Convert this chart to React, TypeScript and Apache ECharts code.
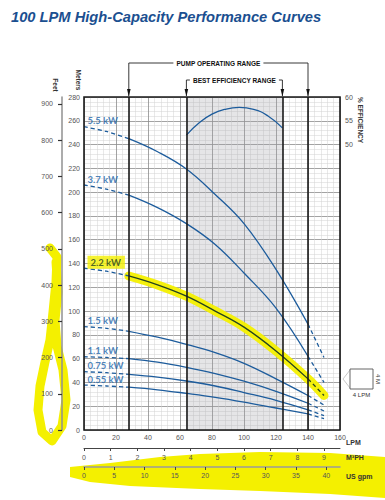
import React, { useEffect, useRef } from 'react';
import * as echarts from 'echarts';

// ---------- data ----------
const flowLpm = [0, 14, 28, 46, 64, 82, 100, 120, 140, 150];
const head5_5 = [255, 251, 245, 234, 219.5, 198, 173.5, 135, 89, 61];
const head3_7 = [206, 202.5, 197.5, 187, 173.5, 156, 132, 102.5, 62, 40];
const head2_2 = [136, 133.5, 129.5, 122, 112.5, 100, 86.5, 66.5, 43, 29];
const head1_5 = [87, 85.5, 83, 78, 72, 65, 56, 43, 29, 21];
const head1_1 = [61.6, 61, 60, 57, 52.7, 47.5, 41, 32.5, 22.5, 16];
const head0_75 = [49, 48.2, 46.8, 44.5, 41.2, 37, 31.5, 25, 17, 12];
const head0_55 = [37.8, 37, 36, 33.8, 30.8, 27.5, 23.5, 18.5, 13.5, 9.5];
const motorLabels = ['5.5 kW', '3.7 kW', '2.2 kW', '1.5 kW', '1.1 kW', '0.75 kW', '0.55 kW'];
const effFlow = [64, 72, 80, 88, 97, 106, 115, 124];
const effPct = [52, 54.6, 56.4, 57.4, 57.8, 57.4, 56, 53.5];
const operatingRange = [28, 140];
const bestEfficiencyRange = [64, 124];
const feetTicks = [0, 100, 200, 300, 400, 500, 600, 700, 800, 900];
const m3phTicks = [0, 1, 2, 3, 4, 5, 6, 7, 8, 9];
const gpmTicks = [0, 5, 10, 15, 20, 25, 30, 35, 40];
const effTicks = [50, 55, 60];

const BLUE = '#1d5c9c';
const LABEL_BLUE = '#2266aa';
const DARK = '#24421f';
const YELLOW = '#f4f000';
const FONT = 'Liberation Sans';

const curves = [head5_5, head3_7, head2_2, head1_5, head1_1, head0_75, head0_55];

function buildOption(): any {
  const series: any[] = [];
  series.push({
    type: 'line', data: [], z: 1, silent: true,
    markArea: {
      silent: true,
      itemStyle: { color: 'rgba(160,160,170,0.28)' },
      data: [[{ xAxis: bestEfficiencyRange[0] }, { xAxis: bestEfficiencyRange[1] }]],
    },
  });
  series.push({
    type: 'line', z: 2, silent: true, symbol: 'none', smooth: 0.4,
    data: flowLpm.slice(2).map((x, j) => [x, head2_2[j + 2]]),
    lineStyle: { color: YELLOW, width: 9, cap: 'round', opacity: 0.95 },
  });
  series.push({
    type: 'line', data: [], z: 2.5, silent: true,
    markLine: {
      silent: true, symbol: ['none', 'none'], label: { show: false },
      lineStyle: { color: '#1a1a1a', width: 1.6, type: 'solid' },
      data: [...operatingRange, ...bestEfficiencyRange].map((v) => ({ xAxis: v })),
    },
  });
  curves.forEach((h, i) => {
    const pts = flowLpm.map((x, j) => [x, h[j]]);
    const c = i === 2 ? DARK : BLUE;
    series.push({
      type: 'line', z: 3, symbol: 'none', smooth: 0.3, data: pts.slice(0, 3),
      lineStyle: { color: BLUE, width: 1.3, type: [4, 3] },
    });
    series.push({
      type: 'line', z: 3, symbol: 'none', smooth: 0.4, data: pts.slice(2, 9),
      lineStyle: { color: c, width: 1.3 },
    });
    series.push({
      type: 'line', z: 3, symbol: 'none', data: pts.slice(8),
      lineStyle: { color: c, width: 1.3, type: [4, 3] },
    });
  });
  series.push({
    type: 'scatter', z: 4, symbol: 'circle', symbolSize: 1,
    itemStyle: { color: 'rgba(0,0,0,0)' },
    data: motorLabels.map((n, i) => ({
      name: n,
      value: [0, curves[i][0]],
      label: i === 2
        ? { backgroundColor: YELLOW, color: DARK, padding: [2, 4, 1, 3] }
        : {},
    })),
    label: {
      show: true, formatter: '{b}', position: 'right', distance: 3, offset: [0, -6],
      color: LABEL_BLUE, fontSize: 9.5, fontWeight: 'bold', fontFamily: 'Lato',
    },
  });
  series.push({
    type: 'line', z: 3, symbol: 'none', smooth: 0.5, yAxisIndex: 2,
    data: effFlow.map((x, i) => [x, effPct[i]]),
    lineStyle: { color: BLUE, width: 1.3 },
  });

  const tickLabel = { fontSize: 7, color: '#555', fontFamily: FONT, hideOverlap: false };
  const axisName = { fontSize: 7, fontWeight: 'bold', color: '#333', fontFamily: FONT, verticalAlign: 'top' };

  return {
    animation: false,
    title: {
      text: '100 LPM High-Capacity Performance Curves',
      left: 6, top: 4,
      textStyle: { fontSize: 14.7, fontWeight: 'bold', fontStyle: 'italic', color: '#1b4f90', fontFamily: FONT },
    },
    grid: { left: 84, right: 45, top: 97, bottom: 70, show: false },
    xAxis: [
      {
        type: 'value', min: 0, max: 160, interval: 20,
        axisLine: { show: false, onZero: false }, axisTick: { show: false },
        axisLabel: { ...tickLabel, margin: 4 },
        splitLine: { show: true, lineStyle: { color: '#8c8c8c', width: 0.8 } },
        minorTick: { show: false, splitNumber: 5 },
        minorSplitLine: { show: true, lineStyle: { color: '#d2d2d2', width: 0.5 } },
      },
      {
        type: 'value', position: 'bottom', offset: 18, min: 0, max: 9.6, interval: 1,
        axisLine: { show: true, onZero: false, lineStyle: { color: '#444', width: 1 } },
        axisTick: { show: true, length: 3, customValues: m3phTicks, lineStyle: { color: '#444' } },
        axisLabel: { ...tickLabel, margin: 6, interval: 0, customValues: m3phTicks },
        splitLine: { show: false },
        name: 'M³PH', nameLocation: 'end', nameGap: 6, nameMoveOverlap: false,
        nameTextStyle: { ...axisName, padding: [6, 0, 0, 0] },
      },
      {
        type: 'value', position: 'bottom', offset: 37, min: 0, max: 160 / 3.78541, interval: 5,
        axisLine: { show: true, onZero: false, lineStyle: { color: '#9a9a9a', width: 1.5 } },
        axisTick: { show: true, length: 3, customValues: gpmTicks, lineStyle: { color: '#444' } },
        axisLabel: { ...tickLabel, margin: 5, interval: 0, customValues: gpmTicks },
        splitLine: { show: false },
        name: 'US gpm', nameLocation: 'end', nameGap: 6, nameMoveOverlap: false,
        nameTextStyle: { ...axisName, padding: [6, 0, 0, 0] },
      },
    ],
    yAxis: [
      {
        type: 'value', min: 0, max: 280, interval: 20, position: 'left',
        axisLine: { show: false, onZero: false }, axisTick: { show: false },
        axisLabel: { ...tickLabel, margin: 4 },
        splitLine: { show: true, lineStyle: { color: '#8c8c8c', width: 0.8 } },
        minorTick: { show: false, splitNumber: 5 },
        minorSplitLine: { show: true, lineStyle: { color: '#d2d2d2', width: 0.5 } },
      },
      {
        type: 'value', min: 0, max: 280 / 0.3048, interval: 100, position: 'left', offset: 22,
        axisLine: { show: true, onZero: false, lineStyle: { color: '#909090', width: 1.5 } },
        axisTick: { show: true, length: 4, customValues: feetTicks, lineStyle: { color: '#333', width: 1.2 } },
        axisLabel: { ...tickLabel, margin: 9, interval: 0, customValues: feetTicks },
        splitLine: { show: false },
      },
      {
        type: 'value', min: -10, max: 60, interval: 5, position: 'right',
        axisLine: { show: false, onZero: false }, axisTick: { show: false },
        axisLabel: { ...tickLabel, margin: 5, customValues: effTicks },
        splitLine: { show: false },
      },
    ],
    series,
  };
}

export default function App() {
  const ref = useRef<HTMLDivElement>(null);
  useEffect(() => {
    const chart = echarts.init(ref.current!, null, { renderer: 'svg' });
    chart.setOption(buildOption());

    const xp = (v: number) => chart.convertToPixel({ xAxisIndex: 0 }, v) as number;
    const yp = (v: number) => chart.convertToPixel({ yAxisIndex: 0 }, v) as number;
    const left = xp(0), right = xp(160), top = yp(280), bottom = yp(0);

    const bracket = (a: number, b: number, yLine: number, text: string) => {
      const xa = xp(a), xb = xp(b);
      const els: any[] = [
        {
          type: 'polyline', z: 20, silent: true,
          shape: { points: [[xa, top - 1], [xa, yLine], [xb, yLine], [xb, top - 1]] },
          style: { stroke: '#222', lineWidth: 0.9, fill: null },
        },
        ...[xa, xb].map((x) => ({
          type: 'polygon', z: 20, silent: true,
          shape: { points: [[x - 1.8, top - 8], [x + 1.8, top - 8], [x, top - 0.5]] },
          style: { fill: '#111' },
        })),
        {
          type: 'text', z: 21, silent: true, x: (xa + xb) / 2, y: yLine,
          style: {
            text, align: 'center', verticalAlign: 'middle', fontSize: 6.5, fontWeight: 'bold',
            fontFamily: FONT, fill: '#111', backgroundColor: '#fff', padding: [1, 3],
          },
        },
      ];
      return els;
    };

    const vText = (text: string, x: number, y: number, size: number, bold: boolean) => ({
      type: 'text', z: 20, x, y, rotation: -Math.PI / 2, silent: true,
      style: {
        text, align: 'center', verticalAlign: 'middle', fontSize: size,
        fontWeight: bold ? 'bold' : 'normal', fontFamily: FONT, fill: '#333',
      },
    });

    const graphic: any[] = [
      {
        type: 'polyline', z: -5, silent: true,
        shape: { points: [[50, 248], [57, 257], [56, 282], [53, 312], [50, 340], [45, 362], [40, 386], [38, 410], [42, 432], [52, 441], [62, 426], [66, 400], [63, 370], [57, 346], [55, 320], [58, 292], [56, 262]] },
        style: { stroke: YELLOW, lineWidth: 9, lineJoin: 'round', lineCap: 'round', fill: null },
      },
      {
        type: 'polygon', z: -5, silent: true,
        shape: { points: [[70, 467], [110, 463], [160, 457], [200, 454], [260, 452], [330, 453], [385, 457], [385, 498], [330, 494], [260, 491], [200, 489], [130, 486], [90, 482], [70, 477]] },
        style: { fill: YELLOW },
      },
      {
        type: 'rect', z: 19, silent: true,
        shape: { x: left, y: top, width: right - left, height: bottom - top },
        style: { stroke: '#1a1a1a', lineWidth: 1.6, fill: null },
      },
      {
        type: 'text', z: 20, silent: true, x: right + 6, y: bottom + 12,
        style: { text: 'LPM', align: 'left', verticalAlign: 'middle', fontSize: 7, fontWeight: 'bold', fontFamily: FONT, fill: '#333' },
      },
      ...bracket(operatingRange[0], operatingRange[1], top - 34, 'PUMP OPERATING RANGE'),
      ...bracket(bestEfficiencyRange[0], bestEfficiencyRange[1], top - 17, 'BEST EFFICIENCY RANGE'),
      vText('Feet', 55, 85, 6.5, true),
      vText('Meters', 78, 80, 6.5, true),
      vText('% EFFICIENCY', 360, 120, 6.5, true),
      {
        type: 'polyline', z: 20, silent: true,
        shape: { points: [[350, 370], [343, 379], [350, 388]] },
        style: { stroke: '#bbb', lineWidth: 0.8, fill: null },
      },
      {
        type: 'rect', z: 20, silent: true,
        shape: { x: 350, y: 369, width: 23, height: 20 },
        style: { stroke: '#555', lineWidth: 0.9, fill: '#fff' },
      },
      {
        type: 'text', z: 20, x: 361.5, y: 395, silent: true,
        style: { text: '4 LPM', align: 'center', verticalAlign: 'middle', fontSize: 6, fontFamily: FONT, fill: '#333' },
      },
      vText('4 M', 378, 379, 6, false),
    ];
    chart.setOption({ graphic });
    return () => chart.dispose();
  }, []);
  return <div ref={ref} style={{ position: 'absolute', left: 0, top: 0, width: 385, height: 500 }} />;
}
